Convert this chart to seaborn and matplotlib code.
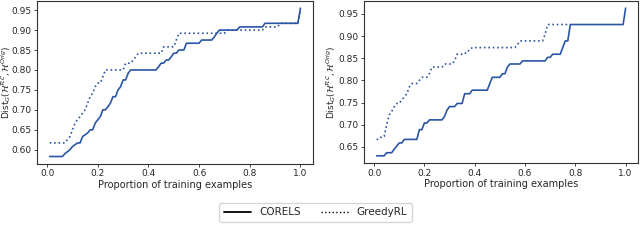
import numpy as np
import pandas as pd
import matplotlib
matplotlib.use('Agg')
import matplotlib.pyplot as plt
from matplotlib.lines import Line2D
import seaborn as sns

# left panel breakpoints
left_corels_x = [0.01, 0.06, 0.07, 0.09, 0.10, 0.12, 0.13, 0.14, 0.16, 0.17, 0.18, 0.19, 0.21, 0.22, 0.23,
                 0.24, 0.25, 0.26, 0.27, 0.28, 0.29, 0.30, 0.31, 0.32, 0.33, 0.43, 0.44, 0.45, 0.46, 0.47,
                 0.48, 0.49, 0.50, 0.51, 0.52, 0.54, 0.55, 0.60, 0.61, 0.65, 0.66, 0.67, 0.68, 0.75, 0.76,
                 0.85, 0.86, 0.99, 1.00]
left_corels_y = [0.583, 0.583, 0.590, 0.600, 0.608, 0.617, 0.617, 0.633, 0.642, 0.650, 0.650, 0.667, 0.683,
                 0.700, 0.700, 0.708, 0.717, 0.733, 0.733, 0.750, 0.758, 0.775, 0.775, 0.792, 0.800, 0.800,
                 0.808, 0.817, 0.817, 0.825, 0.825, 0.833, 0.842, 0.842, 0.850, 0.850, 0.867, 0.867, 0.875,
                 0.875, 0.883, 0.892, 0.900, 0.900, 0.908, 0.908, 0.917, 0.917, 0.955]
left_greedy_x = [0.01, 0.07, 0.08, 0.09, 0.10, 0.11, 0.12, 0.13, 0.14, 0.15, 0.16, 0.17, 0.18, 0.19, 0.20,
                 0.21, 0.22, 0.23, 0.30, 0.31, 0.33, 0.34, 0.35, 0.36, 0.45, 0.46, 0.50, 0.51, 0.52, 0.70,
                 0.71, 0.85, 0.86, 0.91, 0.92, 0.99, 1.00]
left_greedy_y = [0.617, 0.617, 0.625, 0.633, 0.650, 0.667, 0.675, 0.683, 0.692, 0.700, 0.717, 0.733, 0.742,
                 0.758, 0.767, 0.767, 0.783, 0.800, 0.800, 0.817, 0.817, 0.825, 0.833, 0.842, 0.842, 0.858,
                 0.858, 0.875, 0.892, 0.892, 0.900, 0.900, 0.908, 0.908, 0.917, 0.917, 0.950]

# right panel breakpoints
right_corels_x = [0.01, 0.04, 0.05, 0.07, 0.08, 0.09, 0.10, 0.11, 0.12, 0.17, 0.18, 0.19, 0.20, 0.21, 0.22,
                  0.27, 0.28, 0.29, 0.30, 0.32, 0.33, 0.35, 0.36, 0.38, 0.39, 0.45, 0.46, 0.47, 0.50, 0.51,
                  0.52, 0.53, 0.54, 0.58, 0.59, 0.68, 0.69, 0.70, 0.71, 0.74, 0.75, 0.76, 0.77, 0.78, 0.99, 1.00]
right_corels_y = [0.630, 0.630, 0.637, 0.637, 0.645, 0.652, 0.659, 0.659, 0.667, 0.667, 0.689, 0.689, 0.704,
                  0.704, 0.711, 0.711, 0.719, 0.733, 0.741, 0.741, 0.748, 0.748, 0.770, 0.770, 0.778, 0.778,
                  0.793, 0.807, 0.807, 0.815, 0.815, 0.830, 0.837, 0.837, 0.844, 0.844, 0.852, 0.852, 0.859,
                  0.859, 0.874, 0.889, 0.889, 0.926, 0.926, 0.963]
right_greedy_x = [0.01, 0.02, 0.03, 0.04, 0.05, 0.06, 0.07, 0.08, 0.09, 0.10, 0.11, 0.12, 0.13, 0.14, 0.15,
                  0.17, 0.18, 0.19, 0.21, 0.22, 0.23, 0.27, 0.28, 0.31, 0.32, 0.33, 0.36, 0.37, 0.38, 0.39,
                  0.56, 0.57, 0.58, 0.67, 0.68, 0.69, 0.78]
right_greedy_y = [0.667, 0.667, 0.674, 0.674, 0.700, 0.722, 0.730, 0.741, 0.748, 0.748, 0.756, 0.763, 0.770,
                  0.785, 0.793, 0.793, 0.800, 0.807, 0.807, 0.815, 0.830, 0.830, 0.837, 0.837, 0.844, 0.859,
                  0.859, 0.867, 0.867, 0.874, 0.874, 0.881, 0.889, 0.889, 0.904, 0.926, 0.926]

line_color = '#2a55a5'
ylabel = r'Dist$_G(\mathcal{H}^{\mathcal{RC}},\mathcal{H}^{Orig})$'

sns.set_style('ticks')
plt.rcParams['font.family'] = ['DejaVu Sans']

fig = plt.figure(figsize=(6.4, 2.4), dpi=100)
ax1 = fig.add_axes([0.058, 0.317, 0.431, 0.68])
ax2 = fig.add_axes([0.569, 0.32, 0.428, 0.677])

for ax, cx, cy, gx, gy in [(ax1, left_corels_x, left_corels_y, left_greedy_x, left_greedy_y),
                           (ax2, right_corels_x, right_corels_y, right_greedy_x, right_greedy_y)]:
    sns.lineplot(x=cx, y=cy, ax=ax, color=line_color, linewidth=1.2, estimator=None, sort=False)
    sns.lineplot(x=gx, y=gy, ax=ax, color=line_color, linewidth=1.2, linestyle=':', estimator=None, sort=False)
    ax.set_xlabel('Proportion of training examples', fontsize=7, labelpad=1)
    ax.set_ylabel(ylabel, fontsize=6.5)
    ax.tick_params(labelsize=6.5, length=2.5, width=0.6, pad=1.5)
    ax.set_xticks([0.0, 0.2, 0.4, 0.6, 0.8, 1.0])
    for s in ax.spines.values():
        s.set_linewidth(0.8)
        s.set_color('#333333')

ax1.set_yticks([0.60, 0.65, 0.70, 0.75, 0.80, 0.85, 0.90, 0.95])
ax2.set_yticks([0.65, 0.70, 0.75, 0.80, 0.85, 0.90, 0.95])
ax1.yaxis.set_label_coords(-0.088, 0.5)
ax2.yaxis.set_label_coords(-0.095, 0.5)

handles = [Line2D([], [], color='black', linewidth=1.3),
           Line2D([], [], color='black', linewidth=1.0, linestyle=':')]
fig.legend(handles, ['CORELS', 'GreedyRL'], loc='center', bbox_to_anchor=(0.493, 0.115),
           ncol=2, fontsize=7.5, frameon=True, handlelength=2.6, columnspacing=2.0,
           edgecolor='#cccccc', fancybox=True, borderpad=0.4)

fig.savefig('out.png', dpi=100)
